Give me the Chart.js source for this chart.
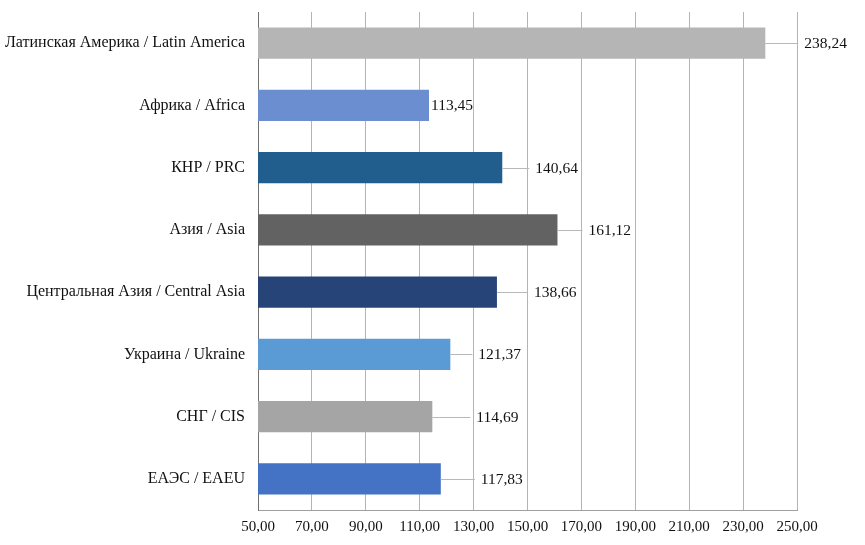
<!DOCTYPE html>
<html>
<head>
<meta charset="utf-8">
<script src="https://cdn.jsdelivr.net/npm/chart.js@4.4.1/dist/chart.umd.min.js"></script>
<style>
  html, body { margin: 0; padding: 0; background: #fff; }
  #wrap { width: 865px; height: 545px; }
</style>
</head>
<body>
<div id="wrap"><canvas id="regionChart" width="865" height="545"></canvas></div>
<script>
const regions = [
  "Латинская Америка / Latin America",
  "Африка / Africa",
  "КНР / PRC",
  "Азия / Asia",
  "Центральная Азия / Central Asia",
  "Украина / Ukraine",
  "СНГ / CIS",
  "ЕАЭС / EAEU"
];
const values = [238.24, 113.45, 140.64, 161.12, 138.66, 121.37, 114.69, 117.83];
const barColors = ["#b5b5b5", "#6a8ecf", "#215e8e", "#626262", "#264478", "#5b9bd5", "#a5a5a5", "#4472c4"];
// distance (px) from bar end to value label, as laid out in the original
const labelGaps = [39, 2, 33, 31, 37, 28, 44, 40];

const fmt = v => v.toFixed(2).replace(".", ",");
const serif = "'Liberation Serif', 'Times New Roman', serif";

const valueLabels = {
  id: "valueLabels",
  afterDatasetsDraw(chart) {
    const ctx = chart.ctx;
    const meta = chart.getDatasetMeta(0);
    ctx.save();
    ctx.font = "15.5px " + serif;
    ctx.textBaseline = "middle";
    ctx.textAlign = "left";
    meta.data.forEach((bar, i) => {
      const gap = labelGaps[i];
      if (gap > 8) {
        ctx.strokeStyle = "#b8b8b8";
        ctx.lineWidth = 1;
        ctx.beginPath();
        ctx.moveTo(bar.x, Math.round(bar.y) + 0.5);
        ctx.lineTo(bar.x + gap - 6, Math.round(bar.y) + 0.5);
        ctx.stroke();
      }
      ctx.fillStyle = "#111";
      ctx.fillText(fmt(values[i]), bar.x + gap, bar.y + 1);
    });
    ctx.restore();
  }
};

new Chart(document.getElementById("regionChart"), {
  type: "bar",
  data: {
    labels: regions,
    datasets: [{
      data: values,
      backgroundColor: barColors,
      barPercentage: 0.5,
      categoryPercentage: 1
    }]
  },
  options: {
    indexAxis: "y",
    responsive: false,
    animation: false,
    layout: { padding: { top: 12, right: 68, bottom: 0, left: 0 } },
    plugins: {
      legend: { display: false },
      tooltip: { enabled: false }
    },
    scales: {
      x: {
        min: 50,
        max: 250,
        ticks: {
          stepSize: 20,
          padding: 8,
          color: "#111",
          font: { family: serif, size: 15 },
          callback: v => fmt(v)
        },
        grid: { color: "#b4b4b4", drawTicks: false },
        border: { color: "#a0a0a0" },
        afterFit: s => { s.height = 35; }
      },
      y: {
        ticks: {
          padding: 13,
          color: "#111",
          font: { family: serif, size: 16 }
        },
        grid: { display: false, drawTicks: false },
        border: { display: true, color: "#707070" },
        afterFit: s => { s.width = 258; s.paddingTop = 0; s.paddingBottom = 0; }
      }
    }
  },
  plugins: [valueLabels]
});
</script>
</body>
</html>
